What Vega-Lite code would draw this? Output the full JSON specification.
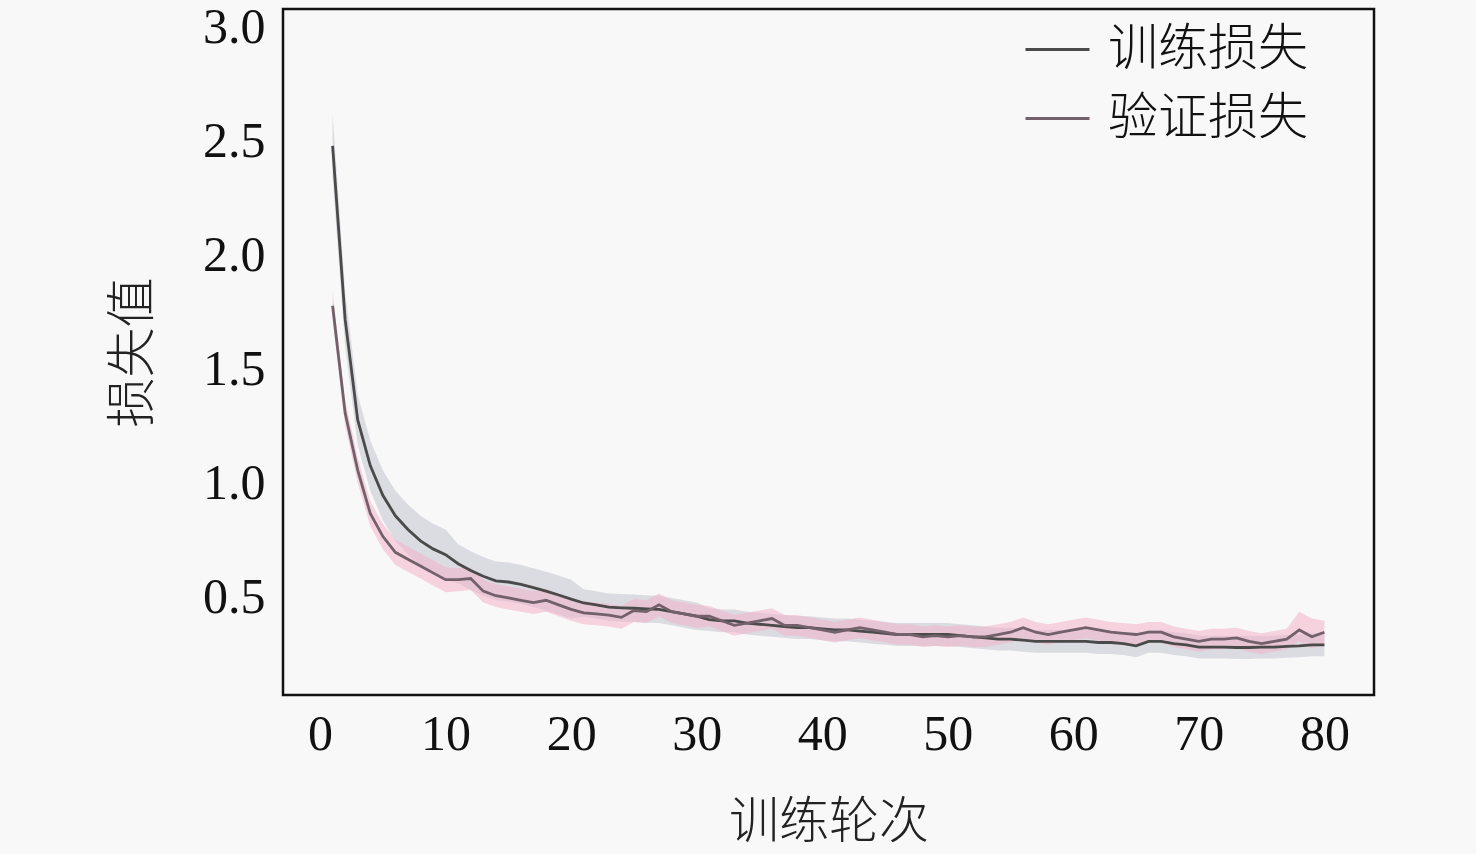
{
  "$schema": "https://vega.github.io/schema/vega-lite/v6.json",
  "autosize": {"type": "none"},
  "padding": {"left": 283, "top": 9, "right": 102, "bottom": 159},
  "width": 1091,
  "height": 686,
  "background": "#f8f8f8",
  "config": {
    "view": {"stroke": "#111111", "strokeWidth": 2.5, "fill": "#f8f8f8"},
    "font": "Liberation Serif, Noto Sans CJK SC",
    "axis": {
      "domain": false, "ticks": false, "grid": false,
      "labelFont": "Liberation Serif, Noto Sans CJK SC", "labelFontSize": 50, "labelColor": "#111111",
      "titleFont": "Liberation Serif, Noto Sans CJK SC", "titleFontSize": 50, "titleFontWeight": 300, "titleColor": "#222222"
    },
    "legend": {
      "labelFont": "Liberation Serif, Noto Sans CJK SC", "labelFontSize": 50, "labelFontWeight": 300, "labelColor": "#111111", "labelLimit": 0
    }
  },
  "data": {"values": [
    {"epoch":1,"series":"训练损失","loss":2.48,"lo":2.34,"hi":2.62},
    {"epoch":2,"series":"训练损失","loss":1.72,"lo":1.60,"hi":1.84},
    {"epoch":3,"series":"训练损失","loss":1.28,"lo":1.17,"hi":1.39},
    {"epoch":4,"series":"训练损失","loss":1.08,"lo":0.97,"hi":1.19},
    {"epoch":5,"series":"训练损失","loss":0.95,"lo":0.84,"hi":1.06},
    {"epoch":6,"series":"训练损失","loss":0.86,"lo":0.75,"hi":0.97},
    {"epoch":7,"series":"训练损失","loss":0.80,"lo":0.69,"hi":0.91},
    {"epoch":8,"series":"训练损失","loss":0.75,"lo":0.64,"hi":0.86},
    {"epoch":9,"series":"训练损失","loss":0.715,"lo":0.605,"hi":0.825},
    {"epoch":10,"series":"训练损失","loss":0.69,"lo":0.58,"hi":0.80},
    {"epoch":11,"series":"训练损失","loss":0.65,"lo":0.565,"hi":0.735},
    {"epoch":12,"series":"训练损失","loss":0.62,"lo":0.535,"hi":0.705},
    {"epoch":13,"series":"训练损失","loss":0.595,"lo":0.51,"hi":0.68},
    {"epoch":14,"series":"训练损失","loss":0.575,"lo":0.49,"hi":0.66},
    {"epoch":15,"series":"训练损失","loss":0.57,"lo":0.485,"hi":0.655},
    {"epoch":16,"series":"训练损失","loss":0.56,"lo":0.475,"hi":0.645},
    {"epoch":17,"series":"训练损失","loss":0.545,"lo":0.46,"hi":0.63},
    {"epoch":18,"series":"训练损失","loss":0.53,"lo":0.445,"hi":0.615},
    {"epoch":19,"series":"训练损失","loss":0.513,"lo":0.428,"hi":0.598},
    {"epoch":20,"series":"训练损失","loss":0.495,"lo":0.41,"hi":0.58},
    {"epoch":21,"series":"训练损失","loss":0.478,"lo":0.418,"hi":0.538},
    {"epoch":22,"series":"训练损失","loss":0.47,"lo":0.41,"hi":0.53},
    {"epoch":23,"series":"训练损失","loss":0.46,"lo":0.40,"hi":0.52},
    {"epoch":24,"series":"训练损失","loss":0.457,"lo":0.397,"hi":0.517},
    {"epoch":25,"series":"训练损失","loss":0.455,"lo":0.395,"hi":0.515},
    {"epoch":26,"series":"训练损失","loss":0.452,"lo":0.392,"hi":0.512},
    {"epoch":27,"series":"训练损失","loss":0.45,"lo":0.39,"hi":0.51},
    {"epoch":28,"series":"训练损失","loss":0.44,"lo":0.38,"hi":0.50},
    {"epoch":29,"series":"训练损失","loss":0.43,"lo":0.37,"hi":0.49},
    {"epoch":30,"series":"训练损失","loss":0.42,"lo":0.36,"hi":0.48},
    {"epoch":31,"series":"训练损失","loss":0.405,"lo":0.355,"hi":0.455},
    {"epoch":32,"series":"训练损失","loss":0.40,"lo":0.35,"hi":0.45},
    {"epoch":33,"series":"训练损失","loss":0.40,"lo":0.35,"hi":0.45},
    {"epoch":34,"series":"训练损失","loss":0.39,"lo":0.34,"hi":0.44},
    {"epoch":35,"series":"训练损失","loss":0.385,"lo":0.335,"hi":0.435},
    {"epoch":36,"series":"训练损失","loss":0.38,"lo":0.33,"hi":0.43},
    {"epoch":37,"series":"训练损失","loss":0.375,"lo":0.325,"hi":0.425},
    {"epoch":38,"series":"训练损失","loss":0.37,"lo":0.32,"hi":0.42},
    {"epoch":39,"series":"训练损失","loss":0.37,"lo":0.32,"hi":0.42},
    {"epoch":40,"series":"训练损失","loss":0.365,"lo":0.315,"hi":0.415},
    {"epoch":41,"series":"训练损失","loss":0.36,"lo":0.31,"hi":0.41},
    {"epoch":42,"series":"训练损失","loss":0.36,"lo":0.31,"hi":0.41},
    {"epoch":43,"series":"训练损失","loss":0.355,"lo":0.305,"hi":0.405},
    {"epoch":44,"series":"训练损失","loss":0.35,"lo":0.30,"hi":0.40},
    {"epoch":45,"series":"训练损失","loss":0.345,"lo":0.295,"hi":0.395},
    {"epoch":46,"series":"训练损失","loss":0.34,"lo":0.29,"hi":0.39},
    {"epoch":47,"series":"训练损失","loss":0.34,"lo":0.29,"hi":0.39},
    {"epoch":48,"series":"训练损失","loss":0.34,"lo":0.29,"hi":0.39},
    {"epoch":49,"series":"训练损失","loss":0.34,"lo":0.29,"hi":0.39},
    {"epoch":50,"series":"训练损失","loss":0.34,"lo":0.29,"hi":0.39},
    {"epoch":51,"series":"训练损失","loss":0.335,"lo":0.285,"hi":0.385},
    {"epoch":52,"series":"训练损失","loss":0.33,"lo":0.28,"hi":0.38},
    {"epoch":53,"series":"训练损失","loss":0.325,"lo":0.275,"hi":0.375},
    {"epoch":54,"series":"训练损失","loss":0.32,"lo":0.27,"hi":0.37},
    {"epoch":55,"series":"训练损失","loss":0.32,"lo":0.27,"hi":0.37},
    {"epoch":56,"series":"训练损失","loss":0.315,"lo":0.265,"hi":0.365},
    {"epoch":57,"series":"训练损失","loss":0.31,"lo":0.26,"hi":0.36},
    {"epoch":58,"series":"训练损失","loss":0.31,"lo":0.26,"hi":0.36},
    {"epoch":59,"series":"训练损失","loss":0.31,"lo":0.26,"hi":0.36},
    {"epoch":60,"series":"训练损失","loss":0.31,"lo":0.26,"hi":0.36},
    {"epoch":61,"series":"训练损失","loss":0.31,"lo":0.26,"hi":0.36},
    {"epoch":62,"series":"训练损失","loss":0.305,"lo":0.255,"hi":0.355},
    {"epoch":63,"series":"训练损失","loss":0.305,"lo":0.255,"hi":0.355},
    {"epoch":64,"series":"训练损失","loss":0.30,"lo":0.25,"hi":0.35},
    {"epoch":65,"series":"训练损失","loss":0.29,"lo":0.24,"hi":0.34},
    {"epoch":66,"series":"训练损失","loss":0.31,"lo":0.26,"hi":0.36},
    {"epoch":67,"series":"训练损失","loss":0.31,"lo":0.26,"hi":0.36},
    {"epoch":68,"series":"训练损失","loss":0.30,"lo":0.25,"hi":0.35},
    {"epoch":69,"series":"训练损失","loss":0.295,"lo":0.245,"hi":0.345},
    {"epoch":70,"series":"训练损失","loss":0.285,"lo":0.235,"hi":0.335},
    {"epoch":71,"series":"训练损失","loss":0.285,"lo":0.235,"hi":0.335},
    {"epoch":72,"series":"训练损失","loss":0.285,"lo":0.235,"hi":0.335},
    {"epoch":73,"series":"训练损失","loss":0.283,"lo":0.233,"hi":0.333},
    {"epoch":74,"series":"训练损失","loss":0.283,"lo":0.233,"hi":0.333},
    {"epoch":75,"series":"训练损失","loss":0.285,"lo":0.235,"hi":0.335},
    {"epoch":76,"series":"训练损失","loss":0.285,"lo":0.235,"hi":0.335},
    {"epoch":77,"series":"训练损失","loss":0.288,"lo":0.238,"hi":0.338},
    {"epoch":78,"series":"训练损失","loss":0.29,"lo":0.24,"hi":0.34},
    {"epoch":79,"series":"训练损失","loss":0.295,"lo":0.245,"hi":0.345},
    {"epoch":80,"series":"训练损失","loss":0.295,"lo":0.245,"hi":0.345},
    {"epoch":1,"series":"验证损失","loss":1.78,"lo":1.72,"hi":1.84},
    {"epoch":2,"series":"验证损失","loss":1.31,"lo":1.255,"hi":1.365},
    {"epoch":3,"series":"验证损失","loss":1.06,"lo":1.005,"hi":1.115},
    {"epoch":4,"series":"验证损失","loss":0.87,"lo":0.815,"hi":0.925},
    {"epoch":5,"series":"验证损失","loss":0.77,"lo":0.715,"hi":0.825},
    {"epoch":6,"series":"验证损失","loss":0.70,"lo":0.645,"hi":0.755},
    {"epoch":7,"series":"验证损失","loss":0.67,"lo":0.615,"hi":0.725},
    {"epoch":8,"series":"验证损失","loss":0.64,"lo":0.585,"hi":0.695},
    {"epoch":9,"series":"验证损失","loss":0.61,"lo":0.555,"hi":0.665},
    {"epoch":10,"series":"验证损失","loss":0.58,"lo":0.525,"hi":0.635},
    {"epoch":11,"series":"验证损失","loss":0.58,"lo":0.53,"hi":0.63},
    {"epoch":12,"series":"验证损失","loss":0.585,"lo":0.535,"hi":0.635},
    {"epoch":13,"series":"验证损失","loss":0.53,"lo":0.48,"hi":0.58},
    {"epoch":14,"series":"验证损失","loss":0.51,"lo":0.46,"hi":0.56},
    {"epoch":15,"series":"验证损失","loss":0.50,"lo":0.45,"hi":0.55},
    {"epoch":16,"series":"验证损失","loss":0.49,"lo":0.44,"hi":0.54},
    {"epoch":17,"series":"验证损失","loss":0.48,"lo":0.43,"hi":0.53},
    {"epoch":18,"series":"验证损失","loss":0.49,"lo":0.44,"hi":0.54},
    {"epoch":19,"series":"验证损失","loss":0.47,"lo":0.42,"hi":0.52},
    {"epoch":20,"series":"验证损失","loss":0.45,"lo":0.40,"hi":0.50},
    {"epoch":21,"series":"验证损失","loss":0.435,"lo":0.385,"hi":0.485},
    {"epoch":22,"series":"验证损失","loss":0.43,"lo":0.38,"hi":0.48},
    {"epoch":23,"series":"验证损失","loss":0.425,"lo":0.375,"hi":0.475},
    {"epoch":24,"series":"验证损失","loss":0.415,"lo":0.365,"hi":0.465},
    {"epoch":25,"series":"验证损失","loss":0.445,"lo":0.395,"hi":0.495},
    {"epoch":26,"series":"验证损失","loss":0.44,"lo":0.39,"hi":0.49},
    {"epoch":27,"series":"验证损失","loss":0.47,"lo":0.42,"hi":0.52},
    {"epoch":28,"series":"验证损失","loss":0.44,"lo":0.39,"hi":0.49},
    {"epoch":29,"series":"验证损失","loss":0.43,"lo":0.38,"hi":0.48},
    {"epoch":30,"series":"验证损失","loss":0.42,"lo":0.37,"hi":0.47},
    {"epoch":31,"series":"验证损失","loss":0.42,"lo":0.375,"hi":0.465},
    {"epoch":32,"series":"验证损失","loss":0.40,"lo":0.355,"hi":0.445},
    {"epoch":33,"series":"验证损失","loss":0.38,"lo":0.335,"hi":0.425},
    {"epoch":34,"series":"验证损失","loss":0.39,"lo":0.345,"hi":0.435},
    {"epoch":35,"series":"验证损失","loss":0.40,"lo":0.355,"hi":0.445},
    {"epoch":36,"series":"验证损失","loss":0.41,"lo":0.365,"hi":0.455},
    {"epoch":37,"series":"验证损失","loss":0.38,"lo":0.335,"hi":0.425},
    {"epoch":38,"series":"验证损失","loss":0.38,"lo":0.335,"hi":0.425},
    {"epoch":39,"series":"验证损失","loss":0.37,"lo":0.325,"hi":0.415},
    {"epoch":40,"series":"验证损失","loss":0.36,"lo":0.315,"hi":0.405},
    {"epoch":41,"series":"验证损失","loss":0.35,"lo":0.305,"hi":0.395},
    {"epoch":42,"series":"验证损失","loss":0.36,"lo":0.315,"hi":0.405},
    {"epoch":43,"series":"验证损失","loss":0.37,"lo":0.325,"hi":0.415},
    {"epoch":44,"series":"验证损失","loss":0.36,"lo":0.315,"hi":0.405},
    {"epoch":45,"series":"验证损失","loss":0.35,"lo":0.305,"hi":0.395},
    {"epoch":46,"series":"验证损失","loss":0.34,"lo":0.295,"hi":0.385},
    {"epoch":47,"series":"验证损失","loss":0.34,"lo":0.295,"hi":0.385},
    {"epoch":48,"series":"验证损失","loss":0.33,"lo":0.285,"hi":0.375},
    {"epoch":49,"series":"验证损失","loss":0.335,"lo":0.29,"hi":0.38},
    {"epoch":50,"series":"验证损失","loss":0.33,"lo":0.285,"hi":0.375},
    {"epoch":51,"series":"验证损失","loss":0.335,"lo":0.29,"hi":0.38},
    {"epoch":52,"series":"验证损失","loss":0.33,"lo":0.285,"hi":0.375},
    {"epoch":53,"series":"验证损失","loss":0.33,"lo":0.285,"hi":0.375},
    {"epoch":54,"series":"验证损失","loss":0.34,"lo":0.295,"hi":0.385},
    {"epoch":55,"series":"验证损失","loss":0.35,"lo":0.305,"hi":0.395},
    {"epoch":56,"series":"验证损失","loss":0.37,"lo":0.325,"hi":0.415},
    {"epoch":57,"series":"验证损失","loss":0.35,"lo":0.305,"hi":0.395},
    {"epoch":58,"series":"验证损失","loss":0.34,"lo":0.295,"hi":0.385},
    {"epoch":59,"series":"验证损失","loss":0.35,"lo":0.305,"hi":0.395},
    {"epoch":60,"series":"验证损失","loss":0.36,"lo":0.315,"hi":0.405},
    {"epoch":61,"series":"验证损失","loss":0.37,"lo":0.325,"hi":0.415},
    {"epoch":62,"series":"验证损失","loss":0.36,"lo":0.315,"hi":0.405},
    {"epoch":63,"series":"验证损失","loss":0.35,"lo":0.305,"hi":0.395},
    {"epoch":64,"series":"验证损失","loss":0.345,"lo":0.30,"hi":0.39},
    {"epoch":65,"series":"验证损失","loss":0.34,"lo":0.295,"hi":0.385},
    {"epoch":66,"series":"验证损失","loss":0.35,"lo":0.305,"hi":0.395},
    {"epoch":67,"series":"验证损失","loss":0.35,"lo":0.305,"hi":0.395},
    {"epoch":68,"series":"验证损失","loss":0.33,"lo":0.285,"hi":0.375},
    {"epoch":69,"series":"验证损失","loss":0.32,"lo":0.275,"hi":0.365},
    {"epoch":70,"series":"验证损失","loss":0.31,"lo":0.265,"hi":0.355},
    {"epoch":71,"series":"验证损失","loss":0.32,"lo":0.275,"hi":0.365},
    {"epoch":72,"series":"验证损失","loss":0.32,"lo":0.275,"hi":0.365},
    {"epoch":73,"series":"验证损失","loss":0.325,"lo":0.28,"hi":0.37},
    {"epoch":74,"series":"验证损失","loss":0.31,"lo":0.265,"hi":0.355},
    {"epoch":75,"series":"验证损失","loss":0.30,"lo":0.255,"hi":0.345},
    {"epoch":76,"series":"验证损失","loss":0.31,"lo":0.265,"hi":0.355},
    {"epoch":77,"series":"验证损失","loss":0.32,"lo":0.275,"hi":0.365},
    {"epoch":78,"series":"验证损失","loss":0.36,"lo":0.31,"hi":0.44},
    {"epoch":79,"series":"验证损失","loss":0.33,"lo":0.28,"hi":0.41},
    {"epoch":80,"series":"验证损失","loss":0.35,"lo":0.30,"hi":0.40}
  ]},
  "encoding": {
    "x": {"field": "epoch", "type": "quantitative",
          "scale": {"domain": [-2.95, 83.95], "nice": false, "zero": false},
          "axis": {"values": [0,10,20,30,40,50,60,70,80], "title": "训练轮次", "labelPadding": 14, "titlePadding": 38, "format": "d"}}
  },
  "layer": [
    {
      "transform": [{"filter": "datum.series === '训练损失'"}],
      "mark": {"type": "area", "opacity": 0.6, "color": "#c8c8d4"},
      "encoding": {
        "y": {"field": "lo", "type": "quantitative",
              "scale": {"domain": [0.075, 3.08], "nice": false, "zero": false},
              "axis": {"values": [0.5,1.0,1.5,2.0,2.5,3.0], "format": ".1f", "title": "损失值", "labelPadding": 18, "titlePadding": 44}},
        "y2": {"field": "hi"}
      }
    },
    {
      "transform": [{"filter": "datum.series === '验证损失'"}],
      "mark": {"type": "area", "opacity": 0.55, "color": "#f2b3c8"},
      "encoding": {
        "y": {"field": "lo", "type": "quantitative"},
        "y2": {"field": "hi"}
      }
    },
    {
      "mark": {"type": "line", "strokeWidth": 2.8},
      "encoding": {
        "y": {"field": "loss", "type": "quantitative"},
        "stroke": {"field": "series", "type": "nominal",
                   "scale": {"domain": ["训练损失","验证损失"], "range": ["#4a4a4a", "#72606a"]},
                   "legend": {"orient": "none", "legendX": 741, "legendY": 7, "title": null,
                              "symbolType": "stroke", "symbolSize": 4096, "symbolStrokeWidth": 3,
                              "labelOffset": 17, "rowPadding": 10, "padding": 0}}
      }
    }
  ]
}
